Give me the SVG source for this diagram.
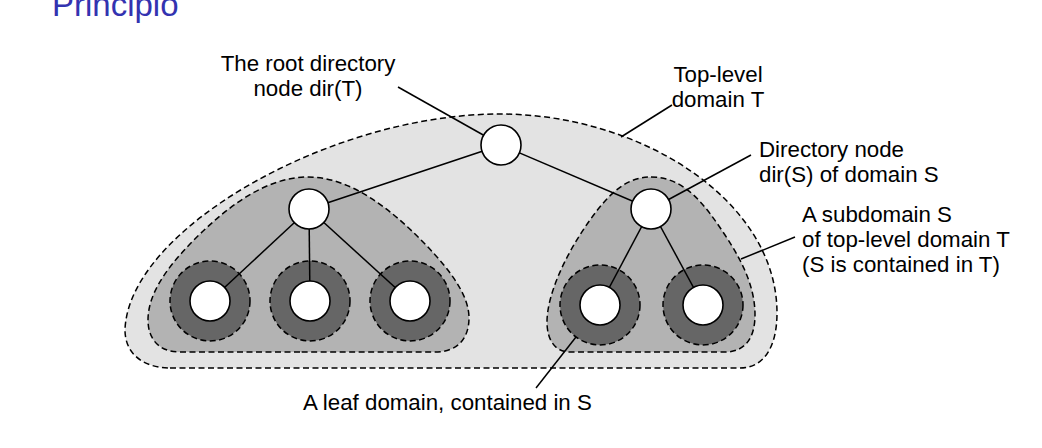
<svg xmlns="http://www.w3.org/2000/svg" width="1042" height="448" viewBox="0 0 1042 448">
<style>
.dash{stroke:#000;stroke-width:1.5;stroke-dasharray:6,3.5;}
.big{fill:#e3e3e3;}
.sub{fill:#b3b3b3;}
.ring{fill:#666666;}
.node{fill:#fff;stroke:#000;stroke-width:1.6;}
.edge{stroke:#000;stroke-width:1.5;fill:none;}
.lbl{font-family:"Liberation Sans",Arial,sans-serif;font-size:22.3px;fill:#000;}
.title{font-family:"Liberation Sans",Arial,sans-serif;font-size:33px;fill:#3333b0;}
</style>
<rect width="1042" height="448" fill="#fff"/>
<text class="title" x="52" y="16">Principio</text>
<g id="domain-T">
<path class="big dash" d="M 170,368 L 740,368 C 765,368 777,345 777,313 C 777,200 640,114 500,114 C 330,114 128,230 125,330 C 125,355 145,368 170,368 Z"/>
</g>
<g id="subdomain-left">
<path class="sub dash" d="M 300,352 L 180,352 C 158,352 148,338 148,320 C 148,295 165,270 190,244 C 225,208 265,177 308,177 C 350,177 390,208 425,244 C 450,270 469,295 469,318 C 469,338 458,352 435,352 Z"/>
</g>
<g id="subdomain-S">
<path class="sub dash" d="M 651,177 C 685,177 705,205 725,235 C 745,265 755,290 755,315 C 755,338 745,352 725,352 L 570,352 C 555,352 547,340 547,322 C 547,295 565,255 590,220 C 608,195 625,177 651,177 Z"/>
</g>
<g id="leaf-rings">
<circle class="ring dash" cx="210" cy="301" r="40"/>
<circle class="ring dash" cx="310" cy="301" r="40"/>
<circle class="ring dash" cx="410" cy="301" r="40"/>
<circle class="ring dash" cx="600" cy="305" r="40"/>
<circle class="ring dash" cx="703" cy="305" r="40"/>
</g>
<g id="connectors">
<line class="edge" x1="501" y1="145" x2="309" y2="209"/>
<line class="edge" x1="501" y1="145" x2="651" y2="209"/>
<line class="edge" x1="309" y1="209" x2="210" y2="301"/>
<line class="edge" x1="309" y1="209" x2="310" y2="301"/>
<line class="edge" x1="309" y1="209" x2="410" y2="301"/>
<line class="edge" x1="651" y1="209" x2="600" y2="305"/>
<line class="edge" x1="651" y1="209" x2="703" y2="305"/>
<line class="edge" x1="398" y1="87" x2="501" y2="145"/>
<line class="edge" x1="672" y1="105" x2="621" y2="137"/>
<line class="edge" x1="751" y1="155" x2="651" y2="209"/>
<line class="edge" x1="795" y1="237" x2="741" y2="259"/>
<line class="edge" x1="536" y1="388" x2="576" y2="337"/>
</g>
<g id="root-dir-T"><circle class="node" cx="501" cy="145" r="20"/></g>
<g id="dir-left"><circle class="node" cx="309" cy="209" r="20"/></g>
<g id="dir-S"><circle class="node" cx="651" cy="209" r="20"/></g>
<g id="leaf-1"><circle class="node" cx="210" cy="301" r="20"/></g>
<g id="leaf-2"><circle class="node" cx="310" cy="301" r="20"/></g>
<g id="leaf-3"><circle class="node" cx="410" cy="301" r="20"/></g>
<g id="leaf-4"><circle class="node" cx="600" cy="305" r="20"/></g>
<g id="leaf-5"><circle class="node" cx="703" cy="305" r="20"/></g>
<g id="labels">
<text class="lbl" text-anchor="middle" x="308" y="71">The root directory</text>
<text class="lbl" text-anchor="middle" x="308" y="96">node dir(T)</text>
<text class="lbl" text-anchor="middle" x="718" y="82">Top-level</text>
<text class="lbl" text-anchor="middle" x="718" y="107">domain T</text>
<text class="lbl" x="759" y="157">Directory node</text>
<text class="lbl" x="759" y="182">dir(S) of domain S</text>
<text class="lbl" x="802" y="222">A subdomain S</text>
<text class="lbl" x="802" y="247">of top-level domain T</text>
<text class="lbl" x="802" y="272">(S is contained in T)</text>
<text class="lbl" x="303" y="410">A leaf domain, contained in S</text>
</g>
</svg>
